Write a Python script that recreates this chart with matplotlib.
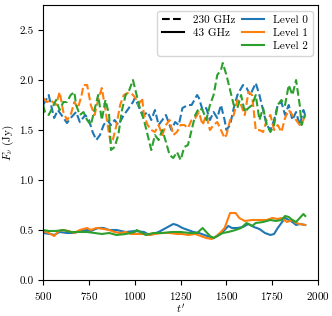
import matplotlib
matplotlib.use("Agg")
import matplotlib.pyplot as plt
from matplotlib.lines import Line2D

plt.rcParams['font.family'] = ['cmr10', 'DejaVu Serif']
plt.rcParams['mathtext.fontset'] = 'cm'
plt.rcParams['axes.formatter.use_mathtext'] = True
plt.rcParams['font.size'] = 8

# 230 GHz (dashed)
t_b230 = [500, 530, 560, 580, 600, 630, 650, 680, 700, 730, 750, 770, 790, 810, 830, 850, 870, 890, 910, 940,
          960, 990, 1000, 1030, 1050, 1070, 1090, 1110, 1130, 1150, 1170, 1200, 1220, 1240, 1260, 1290, 1310,
          1340, 1350, 1370, 1390, 1410, 1430, 1450, 1470, 1490, 1500, 1520, 1540, 1560, 1590, 1610, 1630, 1660,
          1680, 1700, 1720, 1740, 1760, 1780, 1800, 1820, 1840, 1860, 1880, 1900, 1920, 1930]
f_b230 = [1.75, 1.85, 1.62, 1.70, 1.65, 1.57, 1.62, 1.68, 1.58, 1.65, 1.60, 1.48, 1.40, 1.45, 1.55, 1.60,
          1.55, 1.60, 1.55, 1.65, 1.70, 1.78, 1.82, 1.70, 1.65, 1.68, 1.60, 1.70, 1.55, 1.60, 1.65, 1.50, 1.58,
          1.55, 1.72, 1.75, 1.75, 1.85, 1.82, 1.70, 1.72, 1.60, 1.68, 1.62, 1.75, 1.60, 1.50, 1.55, 1.72, 1.85,
          1.95, 1.92, 1.85, 1.97, 1.85, 1.70, 1.55, 1.50, 1.60, 1.75, 1.78, 1.65, 1.75, 1.60, 1.68, 1.55, 1.70, 1.65]

t_o230 = [500, 520, 540, 570, 590, 610, 630, 650, 670, 690, 710, 720, 740, 760, 780, 800, 820, 840, 860, 870,
          880, 900, 920, 940, 960, 980, 1000, 1020, 1040, 1050, 1070, 1090, 1110, 1130, 1150, 1170, 1190, 1210,
          1230, 1250, 1270, 1290, 1310, 1330, 1350, 1370, 1390, 1410, 1430, 1450, 1470, 1490, 1500, 1520, 1540,
          1560, 1580, 1600, 1620, 1640, 1660, 1680, 1700, 1720, 1740, 1760, 1780, 1800, 1820, 1840, 1860, 1880,
          1900, 1920, 1930]
f_o230 = [1.82, 1.78, 1.80, 1.75, 1.88, 1.68, 1.60, 1.65, 1.78, 1.72, 1.85, 1.95, 1.95, 1.75, 1.65, 1.80,
          1.92, 1.70, 1.45, 1.37, 1.40, 1.55, 1.75, 1.85, 1.87, 1.87, 1.83, 1.75, 1.82, 1.65, 1.55, 1.50, 1.48,
          1.55, 1.45, 1.55, 1.60, 1.45, 1.48, 1.55, 1.55, 1.52, 1.60, 1.62, 1.68, 1.55, 1.65, 1.50, 1.55, 1.58,
          1.50, 1.42, 1.45, 1.60, 1.65, 1.80, 1.75, 1.65, 1.88, 1.85, 1.50, 1.50, 1.48, 1.60, 1.65, 1.50, 1.55,
          1.48, 1.62, 1.70, 1.65, 1.60, 1.55, 1.60, 1.68]

t_g230 = [500, 510, 530, 550, 570, 590, 610, 630, 650, 670, 680, 700, 720, 740, 760, 780, 800, 820, 840, 860,
          870, 890, 910, 930, 950, 970, 990, 1010, 1030, 1050, 1070, 1090, 1110, 1130, 1150, 1170, 1190, 1210,
          1230, 1250, 1270, 1290, 1310, 1330, 1350, 1370, 1390, 1410, 1430, 1450, 1470, 1480, 1500, 1520, 1540,
          1560, 1580, 1600, 1620, 1640, 1660, 1680, 1700, 1720, 1740, 1760, 1780, 1800, 1820, 1840, 1860, 1880,
          1900, 1910, 1920, 1930]
f_g230 = [1.75, 1.68, 1.65, 1.72, 1.80, 1.70, 1.78, 1.78, 1.85, 1.88, 1.75, 1.65, 1.68, 1.60, 1.55, 1.70,
          1.85, 1.60, 1.80, 1.65, 1.30, 1.33, 1.45, 1.70, 1.85, 1.90, 2.00, 1.85, 1.70, 1.60, 1.45, 1.30, 1.45,
          1.40, 1.50, 1.38, 1.25, 1.22, 1.28, 1.20, 1.33, 1.35, 1.50, 1.65, 1.72, 1.70, 1.60, 1.75, 1.85, 2.05,
          2.10, 2.17, 2.05, 1.90, 1.75, 1.72, 1.85, 1.68, 1.72, 1.75, 1.85, 1.60, 1.72, 1.55, 1.48, 1.55, 1.75,
          1.80, 1.75, 1.95, 1.85, 2.00, 1.75, 1.55, 1.60, 1.65]

# 43 GHz (solid)
t_b43 = [500, 540, 560, 590, 630, 670, 700, 740, 760, 800, 830, 860, 900, 950, 1000, 1050, 1080, 1100, 1130,
         1150, 1180, 1210, 1230, 1260, 1290, 1320, 1350, 1380, 1410, 1430, 1460, 1490, 1510, 1530, 1560, 1590,
         1620, 1650, 1680, 1710, 1740, 1760, 1780, 1800, 1820, 1840, 1860, 1880, 1900, 1930]
f_b43 = [0.47, 0.46, 0.45, 0.48, 0.47, 0.47, 0.49, 0.50, 0.49, 0.52, 0.52, 0.50, 0.50, 0.48, 0.49, 0.48,
         0.45, 0.46, 0.48, 0.50, 0.53, 0.56, 0.55, 0.52, 0.50, 0.48, 0.47, 0.45, 0.43, 0.42, 0.45, 0.50, 0.54,
         0.52, 0.52, 0.53, 0.56, 0.53, 0.51, 0.47, 0.45, 0.46, 0.52, 0.57, 0.62, 0.60, 0.58, 0.55, 0.56, 0.55]

t_o43 = [500, 530, 560, 580, 600, 640, 670, 700, 740, 760, 790, 830, 860, 890, 920, 950, 980, 1010, 1050,
         1080, 1110, 1150, 1190, 1230, 1260, 1290, 1330, 1360, 1390, 1420, 1440, 1470, 1490, 1510, 1520, 1550,
         1570, 1600, 1640, 1680, 1720, 1750, 1780, 1800, 1830, 1860, 1880, 1900, 1930]
f_o43 = [0.49, 0.47, 0.44, 0.48, 0.50, 0.49, 0.47, 0.50, 0.52, 0.50, 0.52, 0.51, 0.50, 0.48, 0.47, 0.48,
         0.46, 0.46, 0.46, 0.45, 0.46, 0.47, 0.47, 0.46, 0.46, 0.45, 0.46, 0.44, 0.42, 0.41, 0.43, 0.48, 0.52,
         0.62, 0.67, 0.67, 0.62, 0.59, 0.60, 0.60, 0.60, 0.62, 0.61, 0.62, 0.58, 0.60, 0.57, 0.56, 0.55]

t_g43 = [500, 530, 570, 610, 650, 700, 740, 780, 820, 860, 900, 950, 1000, 1010, 1030, 1060, 1100, 1150, 1200,
         1250, 1300, 1340, 1370, 1390, 1410, 1430, 1450, 1480, 1510, 1550, 1580, 1610, 1640, 1660, 1700, 1740,
         1770, 1800, 1820, 1840, 1860, 1880, 1900, 1920, 1930]
f_g43 = [0.50, 0.49, 0.49, 0.50, 0.48, 0.48, 0.48, 0.47, 0.46, 0.47, 0.45, 0.46, 0.48, 0.50, 0.48, 0.45,
         0.47, 0.47, 0.48, 0.48, 0.47, 0.47, 0.52, 0.48, 0.44, 0.42, 0.44, 0.47, 0.48, 0.50, 0.52, 0.57, 0.54,
         0.57, 0.58, 0.60, 0.59, 0.60, 0.64, 0.63, 0.60, 0.58, 0.62, 0.66, 0.64]

level_labels = ['Level 0', 'Level 1', 'Level 2']
colors = ['#1f77b4', '#ff7f0e', '#2ca02c']

fig = plt.figure(figsize=(3.32, 3.16), dpi=100)
ax = fig.add_axes([0.13, 0.114, 0.828, 0.87])

lw = 1.5
for (t, f), c in zip([(t_b230, f_b230), (t_o230, f_o230), (t_g230, f_g230)], colors):
    ax.plot(t, f, color=c, lw=lw, ls='--')
for (t, f), c in zip([(t_b43, f_b43), (t_o43, f_o43), (t_g43, f_g43)], colors):
    ax.plot(t, f, color=c, lw=lw, ls='-')

ax.set_xlim(500, 2000)
ax.set_ylim(0, 2.75)
ax.set_xticks([500, 750, 1000, 1250, 1500, 1750, 2000])
ax.set_yticks([0.0, 0.5, 1.0, 1.5, 2.0, 2.5])
ax.set_yticklabels(['0.0', '0.5', '1.0', '1.5', '2.0', '2.5'])
ax.set_xlabel(r"$t'$", labelpad=1)
ax.set_ylabel(r"$F_\nu$ (Jy)", labelpad=2)

handles = [Line2D([], [], color='k', ls='--', lw=lw),
           Line2D([], [], color='k', ls='-', lw=lw),
           Line2D([], [], alpha=0)]
labels = ['230 GHz', '43 GHz', '']
for c, l in zip(colors, level_labels):
    handles.append(Line2D([], [], color=c, lw=lw))
    labels.append(l)
ax.legend(handles, labels, ncol=2, loc='upper right', fontsize=8,
          columnspacing=0.6, handletextpad=0.8, labelspacing=0.3, borderpad=0.4)

fig.savefig('out.png', dpi=100)
